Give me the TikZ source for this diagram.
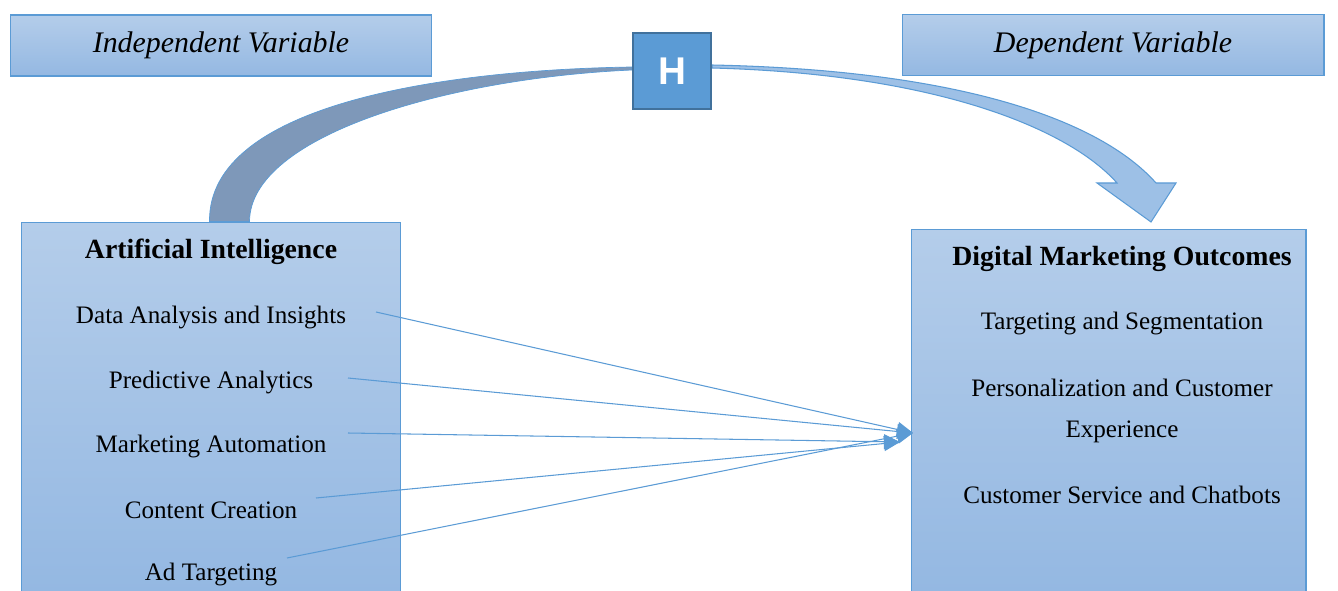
\documentclass[tikz,border=0pt]{standalone}
\usepackage{fontspec}
\setmainfont{Liberation Serif}
\newfontfamily\hfont{Liberation Sans}
\usepackage{xcolor}
\usetikzlibrary{arrows.meta,calc}
\definecolor{edgeblue}{HTML}{5B9BD5}
\definecolor{boxtop}{HTML}{B4CDEA}
\definecolor{boxbot}{HTML}{94B8E2}
\definecolor{hfill}{HTML}{5B9BD5}
\definecolor{hedge}{HTML}{41719C}
\definecolor{arrgray}{HTML}{7E98B9}
\definecolor{arrlight}{HTML}{9DC0E6}
\tikzset{
  varbox/.style = {rectangle, draw=edgeblue, line width=0.6pt, top color=boxtop, bottom color=boxbot,
                   minimum width=8.44cm, minimum height=1.22cm, font=\fontsize{17}{20}\selectfont\itshape},
  bigbox/.style = {rectangle, draw=edgeblue, line width=0.6pt, top color=boxtop, bottom color=boxbot},
  hbox/.style   = {rectangle, draw=hedge, line width=1.2pt, fill=hfill, text=white,
                   minimum width=1.56cm, minimum height=1.52cm, font=\hfont\bfseries\fontsize{22}{24}\selectfont},
  head/.style   = {font=\fontsize{15.8}{18}\selectfont\bfseries},
  item/.style   = {font=\fontsize{14.3}{17}\selectfont},
  ln/.style     = {-{Triangle[length=3.2mm,width=3mm]}, edgeblue, line width=0.6pt},
}
\begin{document}
\begin{tikzpicture}[x=0.02cm,y=-0.02cm]
  \useasboundingbox (0,0) rectangle (1338,591);

  % boxes
  \node[bigbox, minimum width=7.6cm, minimum height=7.4cm] (ai) at (211,407) {};
  \node[bigbox, minimum width=7.9cm, minimum height=7.26cm] (dm) at (1108.5,411) {};
  \node[varbox] (iv) at (221,45.5) {Independent Variable};
  \node[varbox] (dv) at (1113,45) {Dependent Variable};

  % curved arrows
  \node[hbox] (h) at (672,71) {H};
  \fill[arrgray, draw=edgeblue, line width=0.4pt]
    ($(ai.north west)+(189,0)$) .. controls (208,105) and (440,70) .. ($(h.west)+(0,-4)$)
    -- ($(h.west)+(0,-1)$) .. controls (450,78) and (250,135) .. ($(ai.north west)+(229,0)$) -- cycle;
  \fill[arrlight, draw=edgeblue, line width=0.6pt]
    ($(h.east)+(0,-6)$) .. controls (960,70) and (1100,120) .. (1156,183)
    -- (1176,183) -- (1151,222) -- (1097,183) -- (1117,183)
    .. controls (1070,130) and (940,74) .. ($(h.east)+(0,-3)$) -- cycle;
  \node[hbox] at (h) {H};

  % left items
  \node[head] (ait) at (211,252) {Artificial Intelligence};
  \node[item] (i1) at (211,317) {Data Analysis and Insights};
  \node[item] (i2) at (211,382) {Predictive Analytics};
  \node[item] (i3) at (211,446) {Marketing Automation};
  \node[item] (i4) at (211,510) {Content Creation};
  \node[item] (i5) at (211,574) {Ad Targeting};

  % right items
  \node[head] (dmt) at (1122,259) {Digital Marketing Outcomes};
  \node[item] (o1) at (1122,323) {Targeting and Segmentation};
  \node[item] (o2) at (1122,388) {Personalization and Customer};
  \node[item] (o3) at (1122,432) {Experience};
  \node[item] (o4) at (1122,495) {Customer Service and Chatbots};

  % links
  \coordinate (s1) at (376,312);
  \coordinate (s2) at (348,378);
  \coordinate (s3) at (348,433);
  \coordinate (s4) at (316,498);
  \coordinate (s5) at (287,558);
  \coordinate (t1) at (913,433);
  \coordinate (t2) at (900,442);
  \draw[ln] (s1) -- (t1);
  \draw[ln] (s2) -- (t1);
  \draw[ln] (s3) -- (t2);
  \draw[ln] (s4) -- (t2);
  \draw[ln] (s5) -- (t1);

\end{tikzpicture}
\end{document}
